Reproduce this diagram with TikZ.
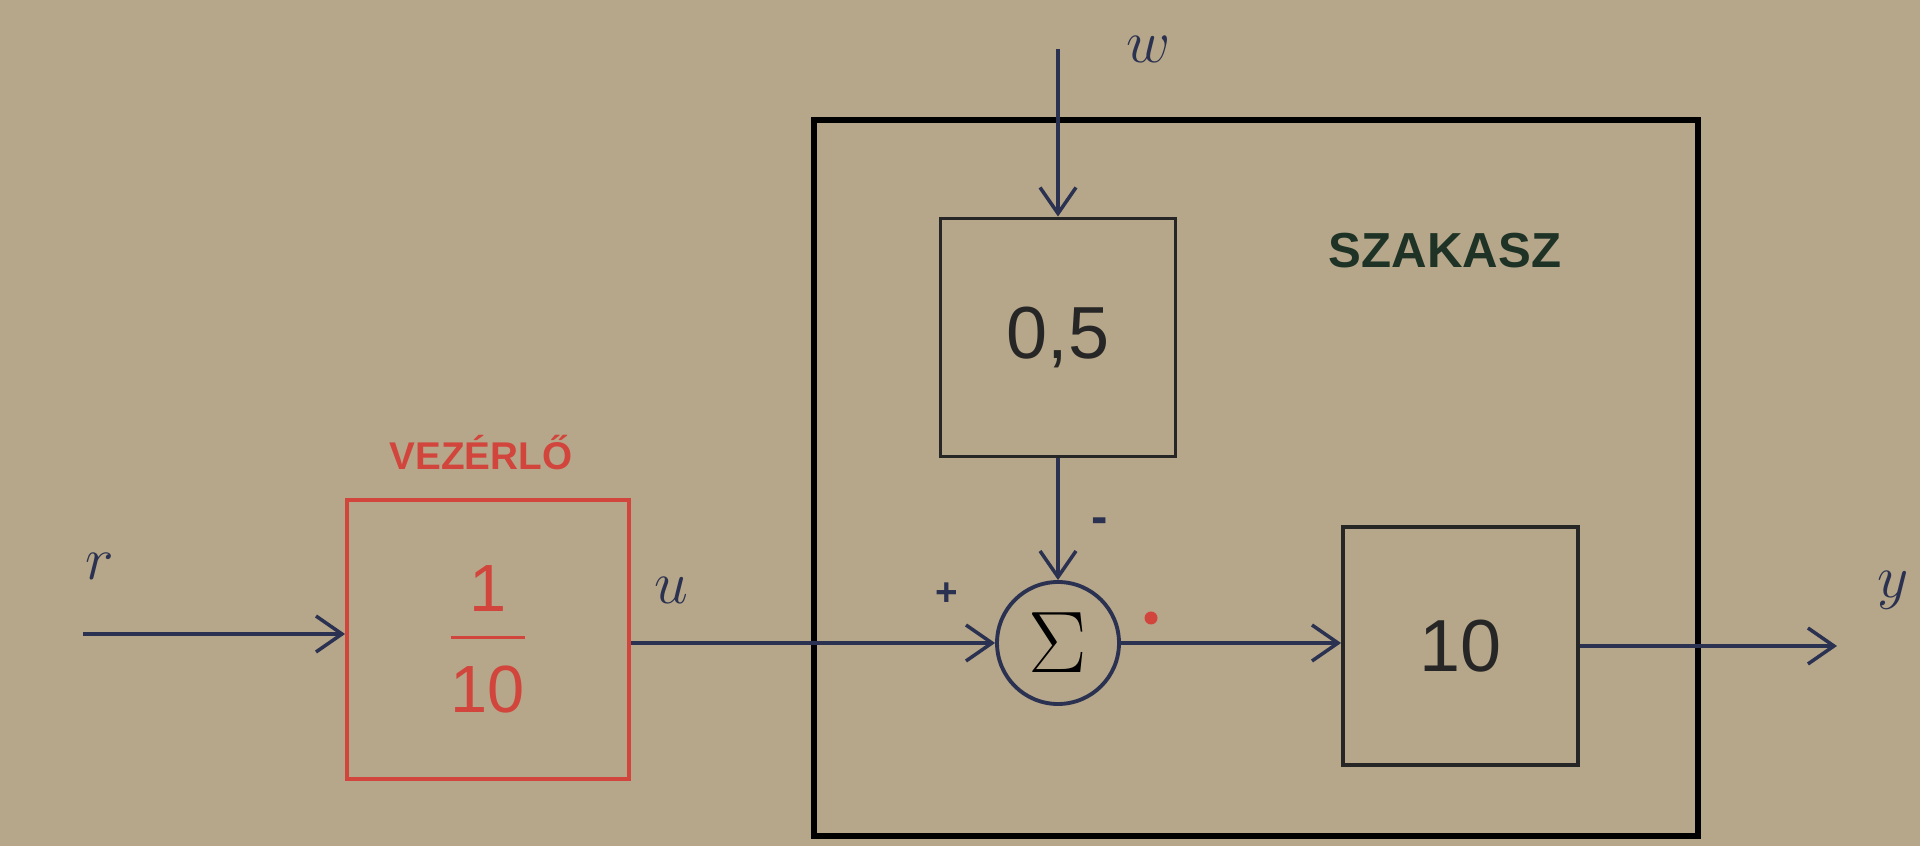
\documentclass[tikz,border=0pt]{standalone}
\usepackage{fontspec}
\setmainfont{Liberation Sans}
\usepackage{amsmath}
\usetikzlibrary{arrows.meta, positioning}
\definecolor{paper}{HTML}{B6A78A}
\definecolor{ink}{HTML}{2B3150}
\definecolor{redink}{HTML}{D2453C}
\definecolor{greenink}{HTML}{1E3326}

\begin{document}
\begin{tikzpicture}[
  blk/.style={rectangle, draw=#1, line width=1.1pt, minimum width=2.35cm, minimum height=2.38cm, font=\fontsize{21}{23}\selectfont, align=center, text=#1},
  sumnode/.style={circle, draw=ink, line width=1.1pt, minimum size=1.22cm, inner sep=0pt, font=\fontsize{24}{26}\selectfont},
  sig/.style={font=\fontsize{17}{19}\selectfont, text=ink},
  arr/.style={-{Straight Barb[length=2.6mm, width=3.6mm]}, line width=1pt, ink},
]
  % paper and frame
  \fill[paper] (0,0) rectangle (19.2,8.46);
  \useasboundingbox (0,0) rectangle (19.2,8.46);

  % Plant frame
  \node[rectangle, draw=black, line width=1.9pt, minimum width=8.84cm, minimum height=7.16cm] (plant) at (12.56, 3.68) {};
  \node[font=\bfseries\fontsize{14}{16}\selectfont, text=greenink] (plantlbl) at (14.45, 5.95) {SZAKASZ};

  % Controller
  \node[blk=redink, minimum width=2.82cm, minimum height=2.79cm, font=\fontsize{19}{21}\selectfont] (vezerlo) at (4.88, 2.065) {$\dfrac{\text{1}\rule[-5pt]{0pt}{5pt}}{\rule{0pt}{19pt}\text{10}}$};
  \node[font=\bfseries\fontsize{11}{13}\selectfont, text=redink] (vezlbl) at (4.81, 3.93) {VEZÉRLŐ};

  % Disturbance gain
  \node[blk=black!85] (gain) at (10.58, 5.085) {0,5};

  % Summing junction
  \node[sumnode] (sum) at (10.58, 2.03) {$\Sigma$};

  % Plant gain
  \node[blk=black!85] (gain10) at (14.605, 2.0) {10};

  % Free ends
  \coordinate (rin) at (0.83, 2.12);
  \coordinate (win) at (10.58, 7.97);
  \coordinate (yout) at (18.37, 2.0);

  % Signals
  \node[sig] (rlbl) at (1.00, 2.80) {$r$};
  \node[sig] (ulbl) at (6.71, 2.56) {$u$};
  \node[sig] (wlbl) at (11.49, 7.97) {$w$};
  \node[sig] (ylbl) at (18.93, 2.56) {$y$};
  \node[font=\bfseries\fontsize{11}{13}\selectfont, text=ink] (plus) at (9.47, 2.52) {+};
  \node[font=\bfseries\fontsize{14}{16}\selectfont, text=ink] (minus) at (11.0, 3.2) {-};
  \fill[redink] (11.51, 2.28) circle (0.065);

  % Arrows
  \draw[arr] (rin) -- (rin -| vezerlo.west);
  \draw[arr] (vezerlo.east |- sum) -- (sum.west);
  \draw[arr] (win) -- (gain.north);
  \draw[arr] (gain.south) -- (sum.north);
  \draw[arr] (sum.east) -- (gain10.west |- sum);
  \draw[arr] (gain10.east) -- (yout);
\end{tikzpicture}
\end{document}
